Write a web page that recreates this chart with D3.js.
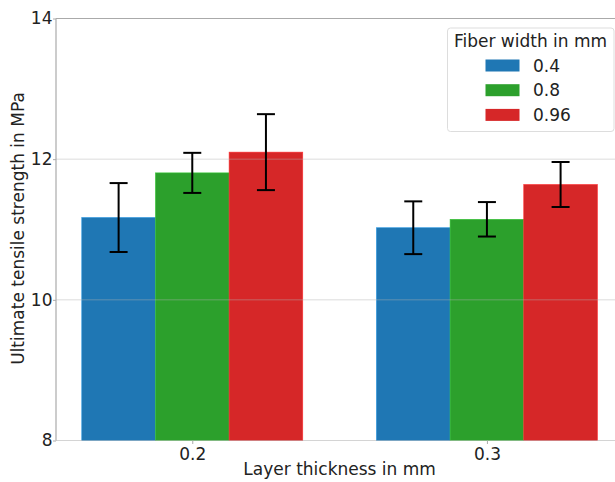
<!DOCTYPE html>
<html>
<head>
<meta charset="utf-8">
<script src="https://cdn.jsdelivr.net/npm/d3@7"></script>
<style>
  html, body { margin: 0; padding: 0; background: #fff; }
  svg { display: block; font-family: "DejaVu Sans", sans-serif; }
</style>
</head>
<body>
<svg id="chart" width="615" height="482"></svg>
<script>
// Layer thickness groups and fiber width series
const layerThickness = ["0.2", "0.3"];
const fiberWidths = ["0.4", "0.8", "0.96"];
const seriesColors = ["#1f77b4", "#2ca02c", "#d62728"];

// Mean ultimate tensile strength (MPa), one array per fiber width
const strength04 = [11.17, 11.025];
const strength08 = [11.805, 11.145];
const strength096 = [12.10, 11.64];

// Standard deviations (MPa)
const error04 = [0.49, 0.375];
const error08 = [0.285, 0.245];
const error096 = [0.54, 0.32];

const yTicks = [8, 10, 12, 14];

const means = [strength04, strength08, strength096];
const errors = [error04, error08, error096];

const FONT = 17;
const svg = d3.select("#chart");
const margin = { left: 56, top: 18.5, bottom: 440.5 };
const plotRight = 623.2;

// Category positions 0 and 1, bars span 0.75 of the spacing, 5% padding
const xLin = d3.scaleLinear().domain([-0.4625, 1.4625]).range([margin.left, plotRight]);
const barWidth = 0.25;
const y = d3.scaleLinear().domain([8, 14]).range([margin.bottom, margin.top]);

const rows = [];
fiberWidths.forEach((fw, s) => {
  layerThickness.forEach((lt, g) => {
    rows.push({ s, g, value: means[s][g], err: errors[s][g] });
  });
});

// Bars
svg.append("g").selectAll("rect").data(rows).join("rect")
  .attr("x", d => xLin(d.g - 0.375 + d.s * barWidth))
  .attr("width", d => xLin(d.g - 0.375 + (d.s + 1) * barWidth) - xLin(d.g - 0.375 + d.s * barWidth))
  .attr("y", d => y(d.value))
  .attr("height", d => y(8) - y(d.value))
  .attr("fill", d => seriesColors[d.s])
  .attr("stroke", d => d3.color(seriesColors[d.s]).brighter(0.6))
  .attr("stroke-width", 0.6);

// Horizontal grid lines, drawn over the bars
svg.append("g").selectAll("line").data(yTicks.filter(t => t !== 8 && t !== 14)).join("line")
  .attr("x1", margin.left).attr("x2", plotRight)
  .attr("y1", d => y(d)).attr("y2", d => y(d))
  .attr("stroke", "#b0b0b0").attr("stroke-opacity", 0.45).attr("stroke-width", 1);

// Error bars
const eb = svg.append("g").attr("stroke", "#000").attr("stroke-width", 2);
rows.forEach(d => {
  const cx = xLin(d.g - 0.375 + (d.s + 0.5) * barWidth);
  eb.append("line").attr("x1", cx).attr("x2", cx)
    .attr("y1", y(d.value + d.err)).attr("y2", y(d.value - d.err));
  [d.value + d.err, d.value - d.err].forEach(v => {
    eb.append("line").attr("x1", cx - 9).attr("x2", cx + 9)
      .attr("y1", y(v)).attr("y2", y(v));
  });
});

// Spines
const spine = svg.append("g").attr("stroke", "#aaaaaa").attr("stroke-width", 1.2).attr("fill", "none");
spine.append("line").attr("x1", margin.left).attr("x2", margin.left).attr("y1", margin.top).attr("y2", margin.bottom);
spine.append("line").attr("x1", margin.left).attr("x2", plotRight).attr("y1", margin.top).attr("y2", margin.top);
spine.append("line").attr("x1", margin.left).attr("x2", plotRight).attr("y1", margin.bottom).attr("y2", margin.bottom)
  .attr("stroke-opacity", 0.5);

// Y axis
const yAxis = svg.append("g").attr("transform", `translate(${margin.left},0)`)
  .call(d3.axisLeft(y).tickValues(yTicks).tickSize(3).tickFormat(d3.format("d")));
yAxis.select(".domain").remove();
yAxis.selectAll(".tick line").attr("stroke", "#aaaaaa");
yAxis.selectAll(".tick text").attr("font-size", FONT).attr("fill", "#222").attr("x", -3.5)
  .attr("font-family", "DejaVu Sans");

// X axis
const xAxis = svg.append("g").attr("transform", `translate(0,${margin.bottom})`)
  .call(d3.axisBottom(xLin).tickValues([0, 1]).tickSize(3.5).tickFormat(i => layerThickness[i]));
xAxis.select(".domain").remove();
xAxis.selectAll(".tick line").attr("stroke", "#aaaaaa");
xAxis.selectAll(".tick text").attr("font-size", FONT).attr("fill", "#222").attr("dy", "0.75em")
  .attr("font-family", "DejaVu Sans");

// Axis titles
svg.append("text").attr("x", (margin.left + plotRight) / 2).attr("y", 475)
  .attr("text-anchor", "middle").attr("font-size", FONT).attr("fill", "#222")
  .text("Layer thickness in mm");
svg.append("text")
  .attr("transform", `translate(24,${(margin.top + margin.bottom) / 2 - 1}) rotate(-90)`)
  .attr("text-anchor", "middle").attr("font-size", FONT).attr("fill", "#222")
  .text("Ultimate tensile strength in MPa");

// Legend
const legend = svg.append("g");
legend.append("rect").attr("x", 447.5).attr("y", 28).attr("width", 166.5).attr("height", 103.5)
  .attr("rx", 3).attr("fill", "#fff").attr("fill-opacity", 0.8)
  .attr("stroke", "#dddddd").attr("stroke-width", 1);
legend.append("text").attr("x", 530.5).attr("y", 47).attr("text-anchor", "middle")
  .attr("font-size", FONT).attr("fill", "#222").text("Fiber width in mm");
fiberWidths.forEach((fw, i) => {
  const cy = 65.5 + i * 24.7;
  legend.append("rect").attr("x", 485.5).attr("y", cy - 6).attr("width", 34).attr("height", 12)
    .attr("fill", seriesColors[i]);
  legend.append("text").attr("x", 533).attr("y", cy + 6).attr("font-size", FONT)
    .attr("fill", "#222").text(fw);
});
</script>
</body>
</html>
